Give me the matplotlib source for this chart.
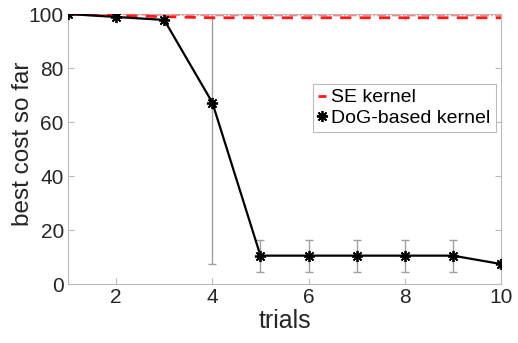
import matplotlib.pyplot as plt

plt.rcParams['font.family'] = ['Liberation Sans', 'DejaVu Sans']

# data
trials = [1, 2, 3, 4, 5, 6, 7, 8, 9, 10]
se_cost = [100, 99.4, 99.0, 98.6, 98.6, 98.6, 98.6, 98.6, 98.6, 98.6]
se_err = [0, 0.4, 0.6, 0.8, 0.8, 0.8, 0.8, 0.8, 0.8, 0.8]
dog_cost = [100, 98.9, 97.8, 67.2, 10.5, 10.5, 10.5, 10.5, 10.5, 7.4]
dog_err = [0, 0, 0, 59.8, 5.9, 5.9, 5.9, 5.9, 5.9, 1.6]

fig = plt.figure(figsize=(5.18, 3.43), dpi=100)
ax = fig.add_axes([68 / 518, 59 / 343, 433 / 518, 270 / 343])

# error bars first (gray)
ax.errorbar(trials, dog_cost, yerr=dog_err, fmt='none', ecolor='#a0a0a0',
            elinewidth=1, capsize=3, zorder=2)
ax.plot(trials, [c + e for c, e in zip(se_cost, se_err)], color='#ff8080',
        linestyle='-.', linewidth=1, zorder=3)

ax.plot(trials, se_cost, color='#ff1a1a', linestyle=(0, (4, 3)), linewidth=2,
        label='SE kernel', zorder=4)
ax.plot(trials, dog_cost, color='black', linewidth=1.6, marker=(8, 2, 0),
        markersize=8, markeredgewidth=1.3, label='DoG-based kernel', zorder=5)

ax.set_xlim(1, 10)
ax.set_ylim(0, 100)
ax.set_xticks([2, 4, 6, 8, 10])
ax.set_yticks([0, 20, 40, 60, 80, 100])
ax.tick_params(direction='in', length=4, labelsize=15, colors='#bbbbbb',
               labelcolor='#262626', top=True, right=True, pad=3)
for s in ax.spines.values():
    s.set_color('#bbbbbb')
    s.set_linewidth(0.8)
ax.grid(False)

ax.set_xlabel('trials', fontsize=18, color='#262626', labelpad=1)
ax.set_ylabel('best cost so far', fontsize=17.5, color='#262626')
ax.yaxis.set_label_coords(-0.078, 0.52)

leg = ax.legend(loc='upper left', bbox_to_anchor=(245 / 433, 200 / 270),
                fontsize=14, handlelength=0.4, handletextpad=0.3,
                borderpad=0.25, borderaxespad=0, labelspacing=0.15,
                fancybox=False, framealpha=1)
leg.get_frame().set_edgecolor('#bbbbbb')
leg.get_frame().set_linewidth(0.8)

fig.savefig('out.png', dpi=100)
